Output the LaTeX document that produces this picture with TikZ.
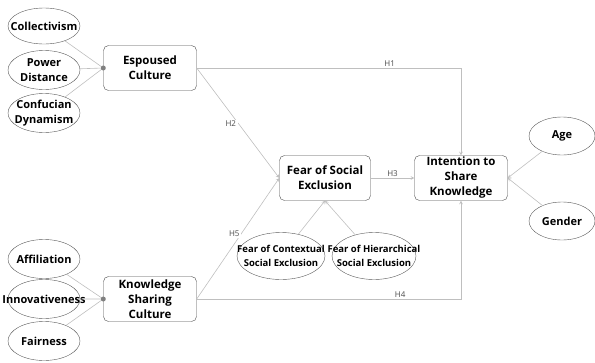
\documentclass[tikz,border=0pt]{standalone}
\usepackage{fontspec}
\setmainfont{Open Sans}
\usetikzlibrary{positioning, shapes, arrows}

\begin{document}
\begin{tikzpicture}[x=1pt, y=-1pt, >=stealth,
  construct/.style={draw=black!70, rounded corners=5pt, minimum width=93pt,
    minimum height=45pt, inner sep=1pt, align=center,
    font=\bfseries\fontsize{11.5}{15}\selectfont},
  indicator/.style={draw=black!65, ellipse, minimum width=72pt, minimum height=39pt,
    inner xsep=-18pt, inner ysep=-4pt, align=center,
    font=\bfseries\fontsize{11}{14.5}\selectfont},
  link/.style={draw=black!25, line width=0.6pt},
  hyp/.style={fill=white, inner sep=1.5pt, text=black!70, font=\fontsize{8}{9}\selectfont}]
\useasboundingbox (0,0) rectangle (595,362);
% constructs
\node (EC) [construct] at (150,68) {Espoused\\Culture};
\node (KSC) [construct] at (150,299) {Knowledge\\Sharing\\Culture};
\node (FSE) [construct, minimum width=91pt] at (325,178) {Fear of Social\\Exclusion};
\node (ISK) [construct] at (461,178) {Intention to\\Share\\Knowledge};
% indicators
\node (Col) [indicator, minimum height=36pt] at (44,26) {Collectivism};
\node (PD) [indicator] at (44,70) {Power\\Distance};
\node (CD) [indicator] at (44,113) {Confucian\\Dynamism};
\node (Aff) [indicator] at (44,259) {Affiliation};
\node (Inn) [indicator] at (44,299) {Innovativeness};
\node (Fair) [indicator] at (44,341) {Fairness};
\node (FCSE) [indicator, minimum width=88pt, minimum height=47pt,
  font=\bfseries\fontsize{9.5}{14}\selectfont] at (281,256) {Fear of Contextual\\Social Exclusion};
\node (FHSE) [indicator, minimum width=84pt, minimum height=47pt,
  font=\bfseries\fontsize{9.5}{14}\selectfont] at (374,256) {Fear of Hierarchical\\Social Exclusion};
\node (Age) [indicator, minimum width=66pt, minimum height=38pt] at (562,136) {Age};
\node (Gen) [indicator, minimum width=66pt, minimum height=38pt] at (562,221) {Gender};
% indicator links
\draw [link] (Col) -- (EC.west) (PD) -- (EC.west) (CD) -- (EC.west);
\draw [link] (Aff) -- (KSC.west) (Inn) -- (KSC.west) (Fair) -- (KSC.west);
\fill [black!50] (EC.west) circle (2.5pt) (KSC.west) circle (2.5pt);
\draw [link, ->] (FCSE) -- (FSE.south);
\draw [link, ->] (FHSE) -- (FSE.south);
\draw [link, ->] (Age) -- (ISK.east);
\draw [link, ->] (Gen) -- (ISK.east);
% hypotheses
\draw [link, ->] (EC.east) -| node (h1) [hyp, pos=0.365, above] {H1} (ISK.north);
\draw [link, ->] (EC.east) -- node (h2) [hyp, pos=0.51, xshift=-8pt] {H2} (FSE.west);
\draw [link, ->] (FSE) -- node (h3) [hyp, above] {H3} (ISK);
\draw [link, ->] (KSC.east) -| node (h4) [hyp, pos=0.385, above] {H4} (ISK.south);
\draw [link, ->] (KSC.east) -- node (h5) [hyp, pos=0.54, xshift=-7pt] {H5} (FSE.west);
\end{tikzpicture}
\end{document}
